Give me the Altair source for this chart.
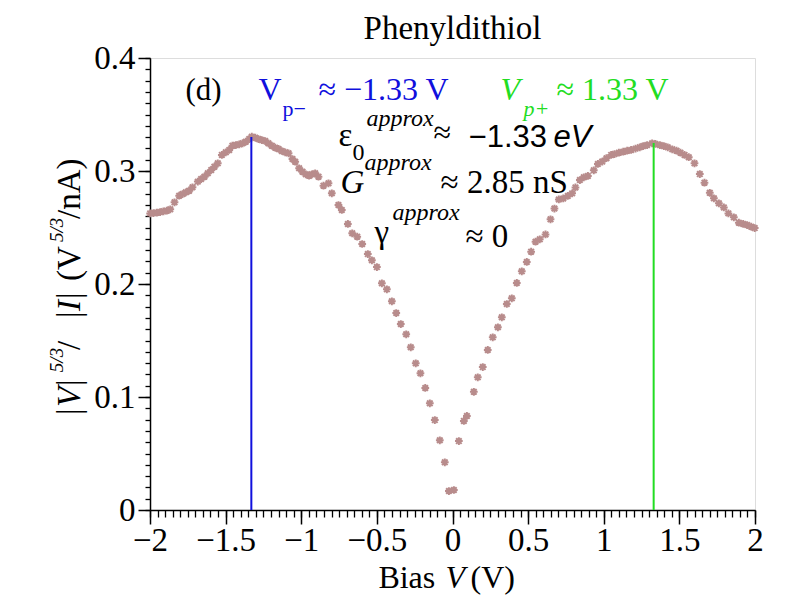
import altair as alt
import pandas as pd

# ---- data ----
bias = [
    -1.999, -1.977, -1.955, -1.933, -1.911, -1.889, -1.866, -1.838, -1.807, -1.785,
    -1.763, -1.741, -1.719, -1.684, -1.662, -1.640, -1.618, -1.595, -1.574, -1.552,
    -1.525, -1.499, -1.476, -1.455, -1.433, -1.410, -1.388, -1.367, -1.344, -1.327,
    -1.304, -1.283, -1.261, -1.238, -1.217, -1.195, -1.172, -1.150, -1.129, -1.106,
    -1.084, -1.058, -1.040, -1.014, -0.992, -0.970, -0.948, -0.930, -0.908, -0.886,
    -0.853, -0.820, -0.798, -0.754, -0.732, -0.692, -0.663, -0.630, -0.597,
    -0.560, -0.533, -0.500, -0.467, -0.434, -0.401, -0.372, -0.342, -0.306, -0.276,
    -0.243, -0.212, -0.180, -0.150, -0.117, -0.084, -0.051, -0.024, 0.009, 0.042,
    0.075, 0.095, 0.141, 0.167, 0.200, 0.233, 0.266, 0.300, 0.326, 0.359,
    0.392, 0.425, 0.458, 0.491,
    0.520, 0.549, 0.577, 0.615, 0.648, 0.674, 0.703, 0.732, 0.762, 0.791,
    0.813, 0.842, 0.868, 0.895, 0.934,
    0.961, 0.990, 1.018, 1.049, 1.071, 1.100, 1.129, 1.155, 1.181, 1.210,
    1.238, 1.261, 1.287, 1.320, 1.342, 1.371, 1.397, 1.423, 1.453, 1.481,
    1.507, 1.534, 1.562, 1.600, 1.635, 1.666, 1.701, 1.728, 1.761, 1.794,
    1.824, 1.860, 1.893, 1.922, 1.948, 1.975, 1.998,
]
ratio = [
    0.2625, 0.2628, 0.2631, 0.2637, 0.2643, 0.2649, 0.2661, 0.2723, 0.2781, 0.2796,
    0.2811, 0.2826, 0.2856, 0.2906, 0.2929, 0.2950, 0.2980, 0.3009, 0.3038, 0.3068,
    0.3142, 0.3165, 0.3186, 0.3224, 0.3230, 0.3236, 0.3245, 0.3259, 0.3283, 0.3304,
    0.3295, 0.3283, 0.3274, 0.3265, 0.3245, 0.3224, 0.3206, 0.3195, 0.3177, 0.3165,
    0.3157, 0.3106, 0.3082, 0.3024, 0.2994, 0.2971, 0.2958, 0.2971, 0.2980, 0.2950,
    0.2870, 0.2891, 0.2803, 0.2699, 0.2655, 0.2531, 0.2449, 0.2419, 0.2354,
    0.2265, 0.2210, 0.2150, 0.2006, 0.1953, 0.1847, 0.1743, 0.1646, 0.1555, 0.1440,
    0.1298, 0.1210, 0.1080, 0.0944, 0.0796, 0.0617, 0.0422, 0.0168, 0.0177, 0.0610,
    0.0788, 0.0832, 0.1046, 0.1174, 0.1265, 0.1416, 0.1528, 0.1617, 0.1705, 0.1823,
    0.1873, 0.2009, 0.2112, 0.2195,
    0.2286, 0.2374, 0.2395, 0.2439, 0.2572, 0.2668, 0.2748, 0.2757, 0.2779, 0.2802,
    0.2855, 0.2920, 0.2944, 0.2956, 0.3006,
    0.3062, 0.3083, 0.3113, 0.3142, 0.3150, 0.3162, 0.3171, 0.3180, 0.3186, 0.3198,
    0.3210, 0.3221, 0.3230, 0.3245, 0.3239, 0.3230, 0.3221, 0.3210, 0.3192, 0.3180,
    0.3162, 0.3142, 0.3122, 0.3068, 0.2973, 0.2897, 0.2807, 0.2758, 0.2714, 0.2678,
    0.2625, 0.2590, 0.2543, 0.2531, 0.2522, 0.2507, 0.2495,
]
peak_v = [-1.33, 1.33]
peak_top = [0.330, 0.3248]
peak_side = ["minus", "plus"]

x_major = [-2, -1.5, -1, -0.5, 0, 0.5, 1, 1.5, 2]
y_major = [0, 0.1, 0.2, 0.3, 0.4]
x_minor = [round(-2 + 0.05 * i, 2) for i in range(81)]
y_minor = [round(0.01 * i, 2) for i in range(41)]

SERIF = "Liberation Serif"
SANS = "Liberation Sans"
BLUE = "#1010dd"
GREEN = "#22dd22"
DOT = "#b88c8c"
ASTER = "M-1,0L1,0M0,-1L0,1M-0.72,-0.72L0.72,0.72M-0.72,0.72L0.72,-0.72"

xs = alt.Scale(domain=[-2, 2], nice=False, zero=False)
ys = alt.Scale(domain=[0, 0.4], nice=False, zero=False)

major_x = alt.Axis(values=x_major, format="~g", tickSize=14, tickWidth=1.5,
                   domainWidth=1.5, domainColor="black", tickColor="black",
                   labelFont=SERIF, labelFontSize=33, labelColor="black",
                   labelPadding=0, grid=False, title=None, orient="bottom",
                   labelFlush=False, labelOverlap=False)
major_y = alt.Axis(values=y_major, format="~g", tickSize=12, tickWidth=1.5,
                   domainWidth=1.5, domainColor="black", tickColor="black",
                   labelFont=SERIF, labelFontSize=33, labelColor="black",
                   labelPadding=3, grid=False, title=None, orient="left",
                   labelFlush=False, labelOverlap=False)
minor_x = alt.Axis(values=x_minor, tickSize=7, tickWidth=1.3, tickColor="black",
                   labels=False, domain=False, grid=False, title=None, orient="bottom")
minor_y = alt.Axis(values=y_minor, tickSize=5, tickWidth=1.3, tickColor="black",
                   labels=False, domain=False, grid=False, title=None, orient="left")

df = pd.DataFrame({"v": bias, "g": ratio})
points = alt.Chart(df).mark_point(shape=ASTER, filled=False, strokeWidth=2,
                                  size=60, color=DOT, opacity=1).encode(
    x=alt.X("v:Q", scale=xs, axis=major_x),
    y=alt.Y("g:Q", scale=ys, axis=major_y),
)

pk = pd.DataFrame({"v": peak_v, "top": peak_top, "side": peak_side,
                   "base": [0, 0]})
rules = alt.Chart(pk).mark_rule(strokeWidth=2).encode(
    x=alt.X("v:Q", scale=xs, axis=minor_x),
    y=alt.Y("base:Q", scale=ys, axis=minor_y),
    y2="top:Q",
    color=alt.Color("side:N", scale=alt.Scale(domain=["minus", "plus"],
                                              range=[BLUE, GREEN]), legend=None),
)


def txt(s, x, y, size=32, color="black", font=SERIF, style="normal",
        angle=0, align="left"):
    d = pd.DataFrame({"t": [s], "x": [x], "y": [y]})
    return alt.Chart(d).mark_text(font=font, fontSize=size, color=color,
                                  fontStyle=style, angle=angle, align=align,
                                  baseline="alphabetic").encode(
        x=alt.X("x:Q", scale=xs, axis=None),
        y=alt.Y("y:Q", scale=ys, axis=None),
        text="t:N",
    )


labels = [
    # title
    txt("Phenyldithiol", 0.0, 0.4165, size=33, align="center"),
    # panel label and peak voltages
    txt("(d)", -1.765, 0.3628, size=31),
    txt("V", -1.283, 0.3628, size=32, color=BLUE),
    txt("p\u2212", -1.124, 0.3487, size=22, color=BLUE),
    txt("\u2248 \u22121.33 V", -0.886, 0.3628, size=32, color=BLUE),
    txt("V", 0.317, 0.3628, size=32, color=GREEN, style="italic"),
    txt("p+", 0.469, 0.3487, size=22, color=GREEN, style="italic"),
    txt("\u2248 1.33 V", 0.688, 0.3628, size=32, color=GREEN),
    # epsilon line
    txt("\u03b5", -0.754, 0.3221, size=33),
    txt("0", -0.661, 0.3097, size=24),
    txt("approx", -0.569, 0.3398, size=24, style="italic"),
    txt("\u2248", -0.126, 0.3248, size=32),
    txt("\u22121.33", 0.106, 0.3212, size=31, font=SANS),
    txt("eV", 0.668, 0.3212, size=31, font=SANS, style="italic"),
    # G line
    txt("G", -0.740, 0.2805, size=33, style="italic"),
    txt("approx", -0.582, 0.3009, size=24, style="italic"),
    txt("\u2248 2.85 nS", -0.079, 0.2805, size=33),
    # gamma line
    txt("\u03b3", -0.516, 0.2363, size=33),
    txt("approx", -0.397, 0.2566, size=24, style="italic"),
    txt("\u2248 0", 0.086, 0.2327, size=33),
    # x axis title
    txt("Bias", -0.490, -0.0690, size=32),
    txt("V", -0.046, -0.0690, size=32, style="italic"),
    txt("(V)", 0.119, -0.0690, size=32),
    # y axis title (rotated)
    txt("|", -2.460, 0.0841, size=33, angle=270),
    txt("V", -2.460, 0.0912, size=33, style="italic", angle=270),
    txt("|", -2.460, 0.1097, size=33, angle=270),
    txt("5/3", -2.572, 0.1220, size=19, style="italic", angle=270),
    txt("/", -2.460, 0.1416, size=33, angle=270),
    txt("|", -2.460, 0.1699, size=33, angle=270),
    txt("I", -2.460, 0.1761, size=33, style="italic", angle=270),
    txt("|", -2.460, 0.1867, size=33, angle=270),
    txt("(V", -2.460, 0.2027, size=33, angle=270),
    txt("5/3", -2.572, 0.2372, size=19, style="italic", angle=270),
    txt("/nA)", -2.460, 0.2575, size=33, angle=270),
]

chart = alt.layer(points, rules, *labels).resolve_axis(
    x="independent", y="independent"
).properties(
    width=605, height=452,
    autosize=alt.AutoSizeParams(type="none"),
    padding={"left": 142, "top": 50, "right": 29, "bottom": 86},
).configure_view(stroke="black", strokeWidth=1.5).configure(background="white")

chart.save("out.html", embed_options={"renderer": "svg", "actions": False})
